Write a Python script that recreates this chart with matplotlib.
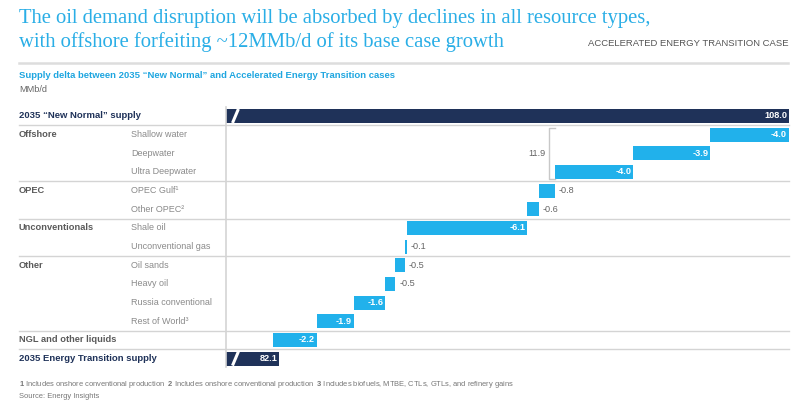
import numpy as np
import matplotlib
import matplotlib.pyplot as plt
from matplotlib.lines import Line2D
matplotlib.use('Agg')

plt.rcParams['font.family'] = ['Liberation Sans', 'DejaVu Sans']
plt.rcParams['mathtext.fontset'] = 'custom'
plt.rcParams['mathtext.bf'] = 'Liberation Sans:bold'
plt.rcParams['mathtext.rm'] = 'Liberation Sans'

# data
start_label = '2035 “New Normal” supply'
start_value = 108.0
end_label = '2035 Energy Transition supply'
end_value = 82.1
groups = ['Offshore', 'Offshore', 'Offshore', 'OPEC', 'OPEC',
          'Unconventionals', 'Unconventionals',
          'Other', 'Other', 'Other', 'Other', 'NGL and other liquids']
items = ['Shallow water', 'Deepwater', 'Ultra Deepwater', 'OPEC Gulf¹', 'Other OPEC²',
         'Shale oil', 'Unconventional gas', 'Oil sands', 'Heavy oil',
         'Russia conventional', 'Rest of World³', '']
deltas = [-4.0, -3.9, -4.0, -0.8, -0.6, -6.1, -0.1, -0.5, -0.5, -1.6, -1.9, -2.2]

NAVY = '#1f3259'
BLUE = '#21b1eb'
GRID = '#d4d4d4'
W, H = 800, 408


def fx(px):
    return px / W


def fy(py):
    return 1 - py / H


fig = plt.figure(figsize=(8, 4.08), dpi=100)

# header
fig.text(fx(19), fy(23), 'The oil demand disruption will be absorbed by declines in all resource types,',
         family='Liberation Serif', fontsize=14.9, color='#2aaee6', va='baseline')
fig.text(fx(19), fy(47), 'with offshore forfeiting ~12MMb/d of its base case growth',
         family='Liberation Serif', fontsize=14.9, color='#2aaee6', va='baseline')
fig.text(fx(788), fy(43), 'ACCELERATED ENERGY TRANSITION CASE', fontsize=6.8,
         color='#555555', ha='right', va='center')
fig.add_artist(Line2D([fx(19), fx(788)], [fy(63), fy(63)], color='#dddddd', lw=1.8))
fig.text(fx(19), fy(76), 'Supply delta between 2035 “New Normal” and Accelerated Energy Transition cases',
         fontsize=6.8, fontweight='bold', color='#1fa6e0', va='center')
fig.text(fx(19), fy(90), 'MMb/d', fontsize=6.6, color='#666666', va='center')

# footnotes
fig.text(fx(19), fy(385), r'$\bf{1}$ Includes onshore conventional production  '
         r'$\bf{2}$ Includes onshore conventional production  '
         r'$\bf{3}$ Includes biofuels, MTBE, CTLs, GTLs, and refinery gains',
         fontsize=5.4, color='#777777', va='center')
fig.text(fx(19), fy(396), 'Source: Energy Insights', fontsize=5.4, color='#777777', va='center')

# chart axes
ax = fig.add_axes([fx(226), fy(367), fx(789 - 226), (367 - 107) / H])
n = len(deltas) + 2
xlo = 79.4
ax.set_xlim(xlo, start_value)
ax.set_ylim(n - 0.55, -0.48)
for s in ['top', 'right', 'bottom']:
    ax.spines[s].set_visible(False)
ax.spines['left'].set_color(GRID)
ax.spines['left'].set_linewidth(1.2)
ax.set_xticks([])
ax.set_yticks([])

bh = 0.75
ytr = ax.get_yaxis_transform()
lab_x = (19 - 226) / (789 - 226)
sub_x = (131 - 226) / (789 - 226)
pad = 0.1

# totals
for yy, val, lab in [(0, start_value, start_label), (n - 1, end_value, end_label)]:
    ax.barh(yy, val - xlo, left=xlo, height=bh, color=NAVY)
    ax.plot([xlo + 0.33, xlo + 0.63], [yy + bh / 2, yy - bh / 2], color='white', lw=2.2,
            solid_capstyle='butt')
    ax.text(val - pad, yy, f'{val:.1f}', color='white', fontsize=6.6, fontweight='bold',
            ha='right', va='center')
    ax.text(lab_x, yy, lab, transform=ytr, color=NAVY, fontsize=6.8, fontweight='bold',
            ha='left', va='center', clip_on=False)

# waterfall
level = start_value
prev_group = None
offshore_end = None
for i, (g, it, d) in enumerate(zip(groups, items, deltas)):
    yy = i + 1
    right = level
    level = level + d
    ax.barh(yy, -d, left=level, height=bh, color=BLUE)
    if abs(d) >= 1:
        ax.text(right - pad, yy, f'{d:.1f}', color='white', fontsize=6.6, fontweight='bold',
                ha='right', va='center')
    else:
        ax.text(right + 0.2, yy, f'{d:.1f}', color='#666666', fontsize=6.6,
                ha='left', va='center')
    if g != prev_group:
        ax.text(lab_x, yy, g, transform=ytr, color='#5a5a5a', fontsize=6.7, fontweight='bold',
                ha='left', va='center', clip_on=False)
    if it:
        ax.text(sub_x, yy, it, transform=ytr, color='#8a8a8a', fontsize=6.5,
                ha='left', va='center', clip_on=False)
    if g == 'Offshore':
        offshore_end = level
    prev_group = g

# separators
seps = [0.5] + [i + 1.5 for i in range(len(groups) - 1) if groups[i] != groups[i + 1]] + [n - 1.5]
for s in seps:
    ax.plot([lab_x, 1], [s, s], transform=ytr, color=GRID, lw=1, clip_on=False)

# offshore bracket
off_idx = [i + 1 for i, g in enumerate(groups) if g == 'Offshore']
off_total = -sum(d for g, d in zip(groups, deltas) if g == 'Offshore')
xb = offshore_end - 0.3
top, bot = off_idx[0] - bh / 2, off_idx[-1] + bh / 2
ax.plot([offshore_end, xb, xb, offshore_end], [top, top, bot, bot], color='#c8c8c8', lw=1)
ax.text(xb - 0.15, np.mean(off_idx), f'{off_total:.1f}', color='#666666', fontsize=6.6,
        ha='right', va='center')

fig.savefig('out.png', dpi=100)
